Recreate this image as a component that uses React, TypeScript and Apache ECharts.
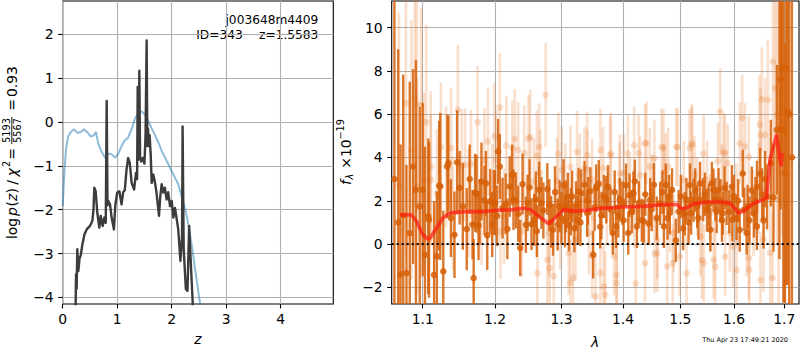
import React, { useEffect, useRef } from 'react';
import * as echarts from 'echarts';

const FONT = 'DejaVu Sans';

// ---- axis ticks ----
const Z_TICKS = [0, 1, 2, 3, 4];
const LOGP_TICKS = [-4, -3, -2, -1, 0, 1, 2];
const LAM_TICKS = [1.1, 1.2, 1.3, 1.4, 1.5, 1.6, 1.7];
const FLUX_TICKS = [-2, 0, 2, 4, 6, 8, 10];

// ---- left panel: log p(z) ----
const PZ_Z = [0.22, 0.244, 0.256, 0.268, 0.287, 0.31, 0.33, 0.36, 0.40, 0.44, 0.50, 0.544, 0.565, 0.58, 0.605, 0.635, 0.672, 0.697, 0.733, 0.764, 0.79, 0.807, 0.822, 0.837, 0.868, 0.898, 0.94, 0.965, 1.0, 1.04, 1.08, 1.11, 1.14, 1.17, 1.2, 1.23, 1.265, 1.31, 1.345, 1.365, 1.376, 1.39, 1.406, 1.42, 1.44, 1.47, 1.50, 1.52, 1.54, 1.553, 1.565, 1.58, 1.595, 1.615, 1.633, 1.663, 1.694, 1.72, 1.767, 1.79, 1.816, 1.846, 1.875, 1.907, 1.935, 1.969, 2.0, 2.03, 2.06, 2.09, 2.12, 2.16, 2.19, 2.2, 2.22, 2.26, 2.29, 2.32, 2.35, 2.385, 2.40];
const PZ_V = [-6, -3.47, -3.8, -2.9, -3.4, -3.1, -3.05, -2.8, -2.56, -2.45, -2.37, -2.26, -2.0, -1.5, -1.58, -2.07, -2.41, -2.14, -2.37, -2.18, -2.3, 0.48, -1.9, -1.8, -1.88, -2.18, -2.45, -1.9, -1.61, -1.58, -1.88, -1.6, -1.55, -1.1, -0.82, -0.93, -1.39, -1.54, -1.16, -1.3, 0.8, -0.86, 1.17, -0.78, -0.9, -0.82, -0.95, -0.3, 1.86, -0.55, -0.15, -0.55, -0.3, -0.75, -1.39, -1.2, -1.39, -1.6, -2.14, -1.7, -1.42, -1.61, -1.5, -1.77, -1.6, -1.92, -1.8, -2.18, -1.96, -2.2, -2.45, -3.17, -2.6, -0.1, -2.9, -3.81, -3.85, -2.37, -3.2, -4.11, -6];

const PRIOR_Z = [0, 0.03, 0.06, 0.1, 0.15, 0.21, 0.27, 0.33, 0.39, 0.45, 0.51, 0.57, 0.61, 0.65, 0.71, 0.78, 0.84, 0.90, 0.96, 1.02, 1.08, 1.14, 1.2, 1.27, 1.33, 1.39, 1.45, 1.51, 1.57, 1.63, 1.69, 1.76, 1.82, 1.88, 1.94, 2.0, 2.06, 2.12, 2.18, 2.25, 2.31, 2.37, 2.43, 2.49, 2.52, 2.58];
const PRIOR_V = [-1.92, -1.16, -0.63, -0.33, -0.23, -0.17, -0.25, -0.23, -0.17, -0.23, -0.33, -0.31, -0.23, -0.48, -0.67, -0.82, -0.72, -0.74, -0.82, -0.72, -0.55, -0.42, -0.36, -0.14, 0.09, 0.2, 0.24, 0.17, 0.02, -0.14, -0.29, -0.48, -0.67, -0.82, -0.97, -1.12, -1.27, -1.42, -1.69, -1.99, -2.37, -2.83, -3.36, -3.89, -4.13, -4.64];

// ---- right panel: spectrum ----
const MODEL_LAM = [1.0705, 1.085, 1.092, 1.099, 1.106, 1.11, 1.117, 1.127, 1.136, 1.157, 1.18, 1.2, 1.223, 1.243, 1.253, 1.268, 1.28, 1.29, 1.303, 1.324, 1.346, 1.367, 1.4, 1.435, 1.47, 1.494, 1.503, 1.515, 1.524, 1.549, 1.573, 1.592, 1.601, 1.609, 1.62, 1.637, 1.657, 1.664, 1.671, 1.684, 1.690, 1.6935, 1.6955];
const MODEL_F = [1.35, 1.35, 1.05, 0.5, 0.23, 0.28, 0.66, 1.2, 1.43, 1.5, 1.5, 1.55, 1.58, 1.66, 1.58, 1.2, 0.94, 1.2, 1.58, 1.52, 1.58, 1.66, 1.71, 1.74, 1.82, 1.82, 1.62, 1.71, 1.86, 1.94, 1.94, 1.89, 1.66, 1.43, 1.55, 1.86, 2.05, 2.15, 3.9, 5.05, 4.05, 3.59, 4.2];

const DARK_LAM = [1.0632, 1.0745, 1.0787, 1.0874, 1.0961, 1.1074, 1.1152, 1.1189, 1.1235, 1.1276, 1.1346, 1.1429, 1.1465, 1.1544, 1.1599, 1.1696, 1.1737, 1.1765, 1.1806, 1.1889, 1.1931, 1.1982, 1.2045, 1.2070, 1.2110, 1.2155, 1.2215, 1.2305, 1.2370, 1.2405, 1.2455, 1.2510, 1.2540, 1.2580, 1.2655, 1.2720, 1.2780, 1.2840, 1.3032, 1.3070, 1.3118, 1.3167, 1.3204, 1.3270, 1.3366, 1.3409, 1.3460, 1.3505, 1.3597, 1.3640, 1.3750, 1.3828, 1.3882, 1.3946, 1.4050, 1.4110, 1.4176, 1.4235, 1.4320, 1.4440, 1.4530, 1.4640, 1.4740, 1.4810, 1.4918, 1.5050, 1.5175, 1.5240, 1.5360, 1.5490, 1.5610, 1.5706, 1.5770, 1.5860, 1.5960, 1.6050, 1.6110, 1.6170, 1.6300, 1.6347, 1.6450, 1.6513, 1.6580, 1.6650, 1.6727, 1.6780, 1.6847, 1.6947, 1.7013, 1.7067, 1.7155,
  1.1000, 1.1084, 1.1220, 1.1332, 1.1716, 1.1850, 1.2000, 1.2270, 1.2605, 1.2868, 1.2970, 1.3055, 1.3258, 1.3312, 1.3554, 1.3720, 1.3989, 1.4088, 1.4353, 1.4465, 1.4706, 1.4794, 1.5110, 1.5196, 1.5307, 1.5417, 1.5552, 1.5644, 1.5785, 1.5969, 1.6247, 1.6265, 1.6447,
  1.0680, 1.0710, 1.0830, 1.0910, 1.1030, 1.1380, 1.1500, 1.1640, 1.1680, 1.1780, 1.1870, 1.1960, 1.2030, 1.2180, 1.2250, 1.2340, 1.2480, 1.2620, 1.2690, 1.2810, 1.2900, 1.2940, 1.3000, 1.3100, 1.3150, 1.3230, 1.3300, 1.3420, 1.3530, 1.3620, 1.3680, 1.3790, 1.3860, 1.3920, 1.4010, 1.4150, 1.4200, 1.4270, 1.4380, 1.4490, 1.4580, 1.4680, 1.4770, 1.4850, 1.4970, 1.5010, 1.5080, 1.5150, 1.5270, 1.5330, 1.5450, 1.5520, 1.5580, 1.5670, 1.5740, 1.5820, 1.5910, 1.6000, 1.6080, 1.6200, 1.6390, 1.6420, 1.6550, 1.6610, 1.6900, 1.6925, 1.6980, 1.7040, 1.7100];
const DARK_F = [3.0, 1.33, -1.34, 3.58, 1.74, 1.28, -1.42, -0.57, 2.66, -1.26, 3.74, 0.43, 3.78, 1.74, 0.69, -1.57, 2.32, 0.86, 2.89, 0.40, 1.97, 1.92, 4.28, 3.58, 1.66, 1.86, 2.66, 2.02, -0.18, 2.77, 0.89, 2.62, 0.92, 1.12, 2.51, 1.55, 2.54, 1.03, 2.72, 1.74, 0.86, 2.20, 0.72, 2.42, 2.74, 1.43, 2.45, -0.49, 2.78, 1.32, 2.65, 0.51, 0.82, 2.05, 2.72, 2.26, 2.35, 0.82, 1.10, 0.95, 2.74, 1.88, 2.72, 1.45, 0.17, 0.72, 2.72, 2.03, 2.80, 1.57, 2.49, 2.51, 1.10, 1.88, 2.65, 1.18, 0.65, 3.26, 1.10, 2.48, 2.65, 3.25, 1.09, 2.18, 3.74, 2.15, 5.28, 8.12, 3.28, 6.12, 4.0,
  2.51, 1.12, 2.70, 3.59, 2.37, 2.02, 1.90, 2.05, 2.05, 0.66, 1.74, 1.05, 1.12, 2.35, 2.58, 2.05, 1.89, 0.51, 1.05, 2.05, 0.82, 2.20, 2.05, 1.43, 1.74, 2.05, 0.66, 2.05, 1.43, 1.12, 0.51, 1.74, 0.82,
  1.0, -1.4, 0.5, 2.5, -0.5, 1.2, 2.6, 3.0, 0.9, 1.5, 2.8, 0.9, 1.3, 0.7, 3.2, 1.4, 1.9, 0.6, 1.9, 1.8, 2.4, 0.9, 1.2, 2.2, 1.5, 1.8, 1.0, 2.0, 1.7, 0.8, 2.2, 1.6, 2.4, 1.3, 1.1, 1.5, 2.9, 1.9, 2.3, 1.6, 1.2, 2.4, 1.2, 2.5, 1.5, 2.2, 1.4, 1.0, 2.5, 1.2, 2.3, 1.8, 2.8, 1.5, 2.0, 2.6, 1.5, 2.2, 2.0, 1.6, 1.4, 2.0, 2.3, 3.0, 5.3, 7.6, 5.3, 8.1, 6.0];
const DARK_ERR = [30, 6.5, 5.0, 4.5, 4.6, 3.6, 3.4, 3.0, 3.4, 2.8, 2.2, 2.0, 2.4, 2.0, 1.9, 1.8, 1.8, 1.6, 1.8, 1.6, 1.5, 1.5, 1.5, 1.5, 1.4, 1.4, 1.4, 1.3, 1.3, 1.4, 1.3, 1.3, 1.2, 1.2, 1.3, 1.3, 1.2, 1.2, 1.2, 1.2, 1.2, 1.2, 1.1, 1.1, 1.1, 1.1, 1.1, 1.1, 1.1, 1.1, 1.0, 1.0, 1.0, 1.0, 1.0, 1.0, 1.0, 1.0, 1.0, 1.0, 1.0, 1.0, 1.0, 1.0, 1.0, 1.0, 1.0, 1.0, 1.0, 1.0, 1.0, 1.0, 1.0, 1.0, 1.0, 1.0, 1.0, 1.1, 1.1, 1.1, 1.2, 1.2, 1.3, 1.5, 2.0, 2.5, 3.0, 4.0, 6.0, 8.0, 30,
  4.0, 3.6, 3.0, 2.4, 1.8, 1.6, 1.5, 1.4, 1.3, 1.2, 1.2, 1.2, 1.1, 1.1, 1.1, 1.1, 1.0, 1.0, 1.0, 1.0, 1.0, 1.0, 1.0, 1.0, 1.0, 1.0, 1.0, 1.0, 1.0, 1.0, 1.0, 1.0, 1.1,
  8, 6, 7, 6, 5, 1.8, 1.7, 1.6, 1.6, 1.5, 1.5, 1.5, 1.4, 1.4, 1.4, 1.3, 1.3, 1.2, 1.2, 1.2, 1.2, 1.2, 1.2, 1.1, 1.1, 1.1, 1.1, 1.1, 1.1, 1.0, 1.0, 1.0, 1.0, 1.0, 1.0, 1.0, 1.0, 1.0, 1.0, 1.0, 1.0, 1.0, 1.0, 1.0, 1.0, 1.0, 1.0, 1.0, 1.0, 1.0, 1.0, 1.0, 1.0, 1.0, 1.0, 1.0, 1.0, 1.0, 1.0, 1.0, 1.1, 1.1, 1.2, 1.3, 6, 6, 8, 10, 30];

const LIGHT_LAM = [1.0852, 1.0896, 1.0922, 1.0926, 1.0978, 1.1014, 1.1046, 1.1106, 1.1110, 1.1189, 1.1244, 1.1313, 1.1382, 1.1406, 1.1475, 1.1530, 1.1576, 1.1627, 1.1659, 1.1751, 1.1806, 1.1848, 1.1899, 1.1959, 1.1991, 1.2020, 1.2070, 1.2080, 1.2130, 1.2165, 1.2255, 1.2290, 1.2340, 1.2395, 1.2430, 1.2520, 1.2575, 1.2620, 1.2670, 1.2755, 1.2780, 1.2805, 1.2880, 1.2930, 1.2980, 1.3005, 1.3059, 1.3140, 1.3183, 1.3220, 1.3290, 1.3366, 1.3409, 1.3435, 1.3489, 1.3543, 1.3624, 1.3667, 1.3704, 1.3731, 1.3796, 1.3850, 1.3892, 1.3946, 1.4012, 1.4118, 1.4188, 1.4265, 1.4294, 1.4400, 1.4459, 1.4500, 1.4541, 1.4588, 1.4665, 1.4706, 1.4765, 1.4812, 1.4882, 1.4953, 1.4988, 1.5061, 1.5166, 1.5215, 1.5258, 1.5307, 1.5368, 1.5429, 1.5491, 1.5552, 1.5613, 1.5693, 1.5736, 1.5767, 1.5828, 1.5877, 1.5920, 1.5982, 1.6047, 1.6160, 1.6213, 1.6247, 1.6300, 1.6380, 1.6480, 1.6500, 1.6547, 1.6580, 1.6613, 1.6667, 1.6713, 1.6760, 1.6767, 1.6813, 1.6880,
  1.2495, 1.2656, 1.2952, 1.3140, 1.3247, 1.3409, 1.3624, 1.3785, 1.3946, 1.4081, 1.4188, 1.4376, 1.4538, 1.4699, 1.4780, 1.2629, 1.2817, 1.3113, 1.3489, 1.3677, 1.3892, 1.4215, 1.4376, 1.4591, 1.4738, 1.4925, 1.5206, 1.5425, 1.5800, 1.6113, 1.6287, 1.6520, 1.4863, 1.5113, 1.5394, 1.5644, 1.5831, 1.6050, 1.6287, 1.6520,
  1.0690, 1.0780, 1.6850, 1.6950, 1.7000];
const LIGHT_F = [4.35, 6.74, 6.48, 2.66, 6.42, 2.97, 5.63, 3.58, 2.97, 2.31, 4.48, 3.58, 4.43, 1.43, 6.2, 3.63, 3.66, 1.89, 3.71, 5.63, 1.43, 3.89, 4.74, 2.32, 4.97, 3.89, 6.31, 0.58, 1.28, 4.55, 4.43, 4.85, 4.35, 0.58, 4.2, 4.94, 2.89, 4.08, 3.28, 6.89, -0.72, 0.51, -1.49, 2.92, 0.82, 3.43, 2.66, -1.8, -1.57, 0.2, 3.2, 3.51, 4.12, 0.51, 2.97, -2.42, -1.34, 3.51, -2.34, 1.74, 4.17, -0.57, -1.8, 2.89, 3.28, 2.23, 1.66, 4.2, 3.18, 4.66, 3.58, 2.35, -0.45, 0.2, 4.48, 2.82, -1.03, 1.43, 0.51, 4.48, -0.57, 2.97, 4.43, 4.57, 3.2, 2.2, 0.35, -0.88, 2.97, 1.43, -0.72, 3.83, 6.12, 2.82, 4.2, 3.74, 0.51, -0.11, 1.82, 5.82, 4.51, 0.51, -1.18, 1.43, 2.58, 5.51, 6.69, 0.2, 5.05, 6.66, -0.42, -1.57, 8.43, 7.2, 2.05,
  4.88, 4.49, 4.18, 3.57, 4.26, 3.42, 4.34, 4.10, 3.26, 4.18, 4.57, 4.65, 3.95, 4.42, 3.57, -1.35, -1.12, -0.43, -0.58, -1.97, -1.43, -1.82, -0.89, -0.43, 3.34, 4.49, 4.65, 4.18, 4.26, 4.65, 4.03, 5.03, -0.89, -1.35, -0.74, -1.05, -0.58, -1.20, -0.66, -1.66,
  2.7, 6.5, 6.0, 8.4, 4.0];
const LIGHT_ERR = [6, 5, 5, 5, 4.5, 4, 4.5, 3.5, 3, 3, 3, 2.8, 2.8, 2.6, 3, 2.6, 2.6, 2.5, 2.5, 2.6, 2.4, 2.4, 2.5, 2.3, 2.5, 2.3, 2.5, 2.2, 2.2, 2.3, 2.2, 2.3, 2.2, 2.1, 2.2, 2.2, 2.0, 2.1, 2.0, 2.4, 2.0, 2.0, 2.0, 2.0, 2.0, 2.0, 2.0, 2.0, 2.0, 1.9, 1.9, 1.9, 2.0, 1.9, 1.9, 2.0, 1.9, 1.9, 2.0, 1.8, 1.9, 1.8, 1.9, 1.8, 1.8, 1.8, 1.8, 1.8, 1.8, 1.9, 1.8, 1.8, 1.8, 1.8, 1.8, 1.8, 1.8, 1.8, 1.8, 1.8, 1.8, 1.8, 1.8, 1.8, 1.8, 1.8, 1.8, 1.8, 1.8, 1.8, 1.8, 1.8, 2.0, 1.8, 1.8, 1.8, 1.8, 1.9, 1.9, 2.0, 2.0, 2.0, 2.0, 2.0, 2.1, 2.3, 2.4, 2.4, 2.6, 2.8, 3, 3, 4, 5, 6,
  2.0, 2.0, 1.9, 1.9, 1.9, 1.9, 1.9, 1.8, 1.8, 1.8, 1.8, 1.8, 1.8, 1.8, 1.8, 2.0, 1.9, 1.9, 1.9, 1.9, 1.8, 1.8, 1.8, 1.8, 1.8, 1.8, 1.8, 1.8, 1.8, 1.9, 1.9, 2.2, 1.8, 1.8, 1.8, 1.8, 1.8, 1.9, 1.9, 2.2,
  8, 7, 6, 8, 10];

const LAM_MIN = 1.0597;
const LAM_MAX = 1.7303;

const DARK_COLOR = 'rgba(214,96,8,0.85)';
const LIGHT_COLOR = 'rgba(230,120,40,0.24)';

const minus = (v: number) => (v < 0 ? '\u2212' + String(-v) : String(v));

const errRender = (color: string, lw: number, r: number) => (params: any, api: any) => {
  const cs = params.coordSys;
  const x = api.value(0);
  const y = api.value(1);
  const e = api.value(2);
  const c = api.coord([x, y]);
  const y1 = Math.max(api.coord([x, y + e])[1], cs.y);
  const y2 = Math.min(api.coord([x, y - e])[1], cs.y + cs.height);
  const children: any[] = [];
  if (y2 > y1) {
    children.push({ type: 'line', shape: { x1: c[0], y1, x2: c[0], y2 }, style: { stroke: color, lineWidth: lw } });
  }
  if (c[1] >= cs.y && c[1] <= cs.y + cs.height) {
    children.push({ type: 'circle', shape: { cx: c[0], cy: c[1], r }, style: { fill: color } });
  }
  return { type: 'group', children };
};

const txt = (text: string, x: number, y: number, size: number, extra: any = {}) => ({
  type: 'text',
  x,
  y,
  style: {
    text,
    fontSize: size,
    fontFamily: FONT,
    fill: '#000',
    align: 'left',
    verticalAlign: 'middle',
    ...extra,
  },
});

function buildOption(): any {
  const tickLabel = { fontFamily: FONT, fontSize: 13.9, color: '#000' };
  const splitLine = { show: true, lineStyle: { color: '#b0b0b0', width: 1.1 } };
  const axisTick = (vals: number[]) => ({ show: true, length: 4.5, lineStyle: { color: '#000', width: 1.1 }, customValues: vals });
  const axisLine = { show: false, onZero: false };

  const lamLn = LAM_TICKS.map((l) => Math.log(l));

  return {
    animation: false,
    grid: [
      { left: 62.7, top: 1, width: 270.6, height: 303, show: true, borderColor: '#000', borderWidth: 1.1, backgroundColor: 'transparent', containLabel: false },
      { left: 391.7, top: 1, width: 407.3, height: 303, show: true, borderColor: '#000', borderWidth: 1.1, backgroundColor: 'transparent', containLabel: false },
    ],
    xAxis: [
      {
        type: 'value', gridIndex: 0, min: 0, max: 4.965, position: 'bottom',
        axisLine, axisTick: axisTick(Z_TICKS), splitLine,
        axisLabel: { ...tickLabel, margin: 8, customValues: Z_TICKS, formatter: (v: number) => minus(v) },
      },
      {
        type: 'value', gridIndex: 1, min: Math.log(LAM_MIN), max: Math.log(LAM_MAX), position: 'bottom',
        axisLine, axisTick: axisTick(lamLn), splitLine,
        axisLabel: { ...tickLabel, margin: 8, customValues: lamLn, formatter: (v: number) => Math.exp(v).toFixed(1) },
      },
    ],
    yAxis: [
      {
        type: 'value', gridIndex: 0, min: -4.15, max: 2.757, position: 'left',
        axisLine, axisTick: axisTick(LOGP_TICKS), splitLine,
        axisLabel: { ...tickLabel, margin: 9, customValues: LOGP_TICKS, formatter: (v: number) => minus(v) },
      },
      {
        type: 'value', gridIndex: 1, min: -2.77, max: 11.23, position: 'left',
        axisLine, axisTick: axisTick(FLUX_TICKS), splitLine,
        axisLabel: { ...tickLabel, margin: 9, customValues: FLUX_TICKS, formatter: (v: number) => minus(v) },
      },
    ],
    series: [
      {
        type: 'line', xAxisIndex: 0, yAxisIndex: 0, showSymbol: false, clip: true, z: 3,
        data: PRIOR_Z.map((z, i) => [z, PRIOR_V[i]]),
        lineStyle: { color: 'rgba(31,119,180,0.5)', width: 2 },
      },
      {
        type: 'line', xAxisIndex: 0, yAxisIndex: 0, showSymbol: false, clip: true, z: 4,
        data: PZ_Z.map((z, i) => [z, PZ_V[i]]),
        lineStyle: { color: '#3c3c3c', width: 2.4, join: 'round' },
      },
      {
        type: 'custom', xAxisIndex: 1, yAxisIndex: 1, clip: true, z: 2,
        renderItem: errRender(LIGHT_COLOR, 2.6, 3.4),
        data: LIGHT_LAM.map((l, i) => [Math.log(l), LIGHT_F[i], LIGHT_ERR[i]]),
      },
      {
        type: 'custom', xAxisIndex: 1, yAxisIndex: 1, clip: true, z: 3,
        renderItem: errRender(DARK_COLOR, 2.4, 3.3),
        data: DARK_LAM.map((l, i) => [Math.log(l), DARK_F[i], DARK_ERR[i]]),
      },
      {
        type: 'line', xAxisIndex: 1, yAxisIndex: 1, showSymbol: false, clip: true, z: 4,
        data: MODEL_LAM.map((l, i) => [Math.log(l), MODEL_F[i]]),
        lineStyle: { color: 'rgba(255,25,15,0.7)', width: 3.6 },
      },
      {
        type: 'line', xAxisIndex: 1, yAxisIndex: 1, showSymbol: false, clip: true, z: 5,
        data: [[Math.log(LAM_MIN), 0], [Math.log(LAM_MAX), 0]],
        lineStyle: { color: '#000', width: 2, type: [2, 3] },
      },
    ],
    graphic: [
      {
        type: 'group', x: 11.8, y: 153, rotation: Math.PI / 2, z: 100,
        children: [
          txt('log', -86, 0, 13.9),
          txt('p', -63, 0, 13.9, { fontStyle: 'italic' }),
          txt('(', -53.5, 0, 13.9),
          txt('z', -48, 0, 13.9, { fontStyle: 'italic' }),
          txt(')', -40.5, 0, 13.9),
          txt('/', -29.5, 0, 13.9, { align: 'center' }),
          txt('\u03c7', -19.5, 0, 13.9, { fontStyle: 'italic', align: 'center' }),
          txt('2', -14, -5.5, 9.7),
          txt('=', -1, 0, 13.9, { align: 'center' }),
          txt('5193', 22.5, -5, 9.7, { align: 'center' }),
          txt('5567', 22.5, 5.3, 9.7, { align: 'center' }),
          { type: 'line', shape: { x1: 9, y1: 0, x2: 36, y2: 0 }, style: { stroke: '#000', lineWidth: 0.9 } },
          txt('=', 48, 0, 13.9, { align: 'center' }),
          txt('0.93', 56, 0, 13.9),
        ],
      },
      {
        type: 'group', x: 345.5, y: 153, rotation: Math.PI / 2, z: 100,
        children: [
          txt('f', -32, 0, 13.9, { fontStyle: 'italic' }),
          txt('\u03bb', -26.5, 3.5, 9.7, { fontStyle: 'italic' }),
          txt('\u00d7', -10, 0, 13.9, { align: 'center' }),
          txt('10', -4, 0, 13.9),
          txt('\u221219', 13.5, -5.5, 9.7),
        ],
      },
      txt('z', 198, 338.5, 13.9, { fontStyle: 'italic', align: 'center' }),
      txt('\u03bb', 595, 342, 13.9, { fontStyle: 'italic', align: 'center' }),
      txt('j003648m4409', 318.3, 20, 12.2, { align: 'right' }),
      txt('ID=343', 242.7, 34.5, 12.2, { align: 'right' }),
      txt('z=1.5583', 318.3, 34.5, 12.2, { align: 'right' }),
      txt('Thu Apr 23 17:49:21 2020', 788, 339.5, 6.5, { align: 'right' }),
    ],
  };
}

export default function App() {
  const ref = useRef<HTMLDivElement>(null);
  useEffect(() => {
    if (!ref.current) return;
    const chart = echarts.init(ref.current, null, { renderer: 'svg' });
    chart.setOption(buildOption());
    return () => chart.dispose();
  }, []);
  return <div ref={ref} style={{ position: 'absolute', left: 0, top: 0, width: 800, height: 350 }} />;
}
